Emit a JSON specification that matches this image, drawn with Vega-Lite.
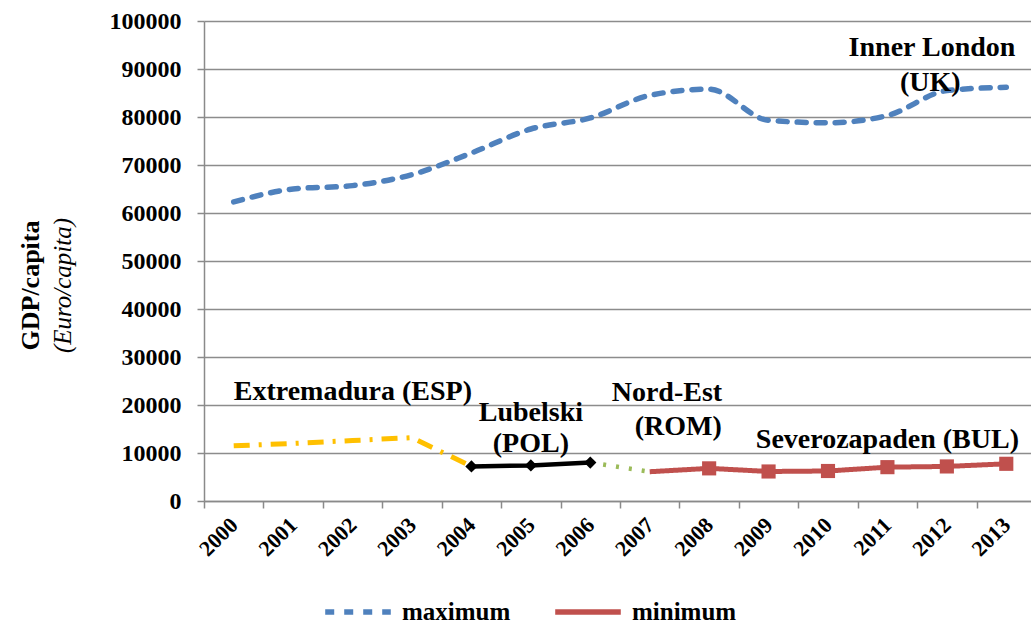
{
  "$schema": "https://vega.github.io/schema/vega-lite/v6.json",
  "width": 827,
  "height": 480,
  "autosize": {"type": "none"},
  "padding": {"left": 204, "top": 21, "right": 0, "bottom": 126},
  "background": "white",
  "config": {
    "view": {"stroke": null},
    "font": "Liberation Serif",
    "style": {"guide-label": {"font": "Liberation Serif", "fontWeight": "bold"}},
    "legend": {
      "orient": "none",
      "legendX": 118,
      "legendY": 555,
      "direction": "horizontal",
      "symbolType": "stroke",
      "symbolSize": 4300,
      "symbolStrokeWidth": 5.5,
      "labelFont": "Liberation Serif",
      "labelFontSize": 25,
      "labelFontWeight": "bold",
      "labelColor": "#000000",
      "labelOffset": 8,
      "columnPadding": 33,
      "labelLimit": 300
    }
  },
  "datasets": {
    "maxd": [
      {"year": 2000, "value": 62300, "series": "maximum"},
      {"year": 2001, "value": 65000, "series": "maximum"},
      {"year": 2002, "value": 65700, "series": "maximum"},
      {"year": 2003, "value": 68000, "series": "maximum"},
      {"year": 2004, "value": 72500, "series": "maximum"},
      {"year": 2005, "value": 77500, "series": "maximum"},
      {"year": 2006, "value": 79800, "series": "maximum"},
      {"year": 2007, "value": 84500, "series": "maximum"},
      {"year": 2008, "value": 85800, "series": "maximum"},
      {"year": 2009, "value": 79300, "series": "maximum"},
      {"year": 2010, "value": 78800, "series": "maximum"},
      {"year": 2011, "value": 80300, "series": "maximum"},
      {"year": 2012, "value": 85500, "series": "maximum"},
      {"year": 2013, "value": 86200, "series": "maximum"}
    ],
    "esp": [
      {"year": 2000, "value": 11500},
      {"year": 2001, "value": 12000},
      {"year": 2002, "value": 12600},
      {"year": 2003, "value": 13200},
      {"year": 2004, "value": 7200}
    ],
    "pol": [
      {"year": 2004, "value": 7200},
      {"year": 2005, "value": 7400},
      {"year": 2006, "value": 8000}
    ],
    "rom": [
      {"year": 2006, "value": 8000},
      {"year": 2007, "value": 6100}
    ],
    "bul": [
      {"year": 2007, "value": 6100, "series": "minimum"},
      {"year": 2008, "value": 6800, "series": "minimum"},
      {"year": 2009, "value": 6150, "series": "minimum"},
      {"year": 2010, "value": 6250, "series": "minimum"},
      {"year": 2011, "value": 7050, "series": "minimum"},
      {"year": 2012, "value": 7200, "series": "minimum"},
      {"year": 2013, "value": 7750, "series": "minimum"}
    ],
    "lab": [
      {"text": "Lubelski", "year": 2005, "value": 18250},
      {"text": "(POL)", "year": 2005, "value": 11900},
      {"text": "Nord-Est", "year": 2007.29, "value": 22420},
      {"text": "(ROM)", "year": 2007.48, "value": 15330},
      {"text": "Severozapaden (BUL)", "year": 2011.0, "value": 12620},
      {"text": "Inner London", "year": 2011.75, "value": 94370},
      {"text": "(UK)", "year": 2011.72, "value": 87070}
    ],
    "labL": [
      {"text": "Extremadura (ESP)", "year": 2000, "value": 22630}
    ]
  },
  "layer": [
    {
      "data": {"name": "maxd"},
      "mark": {"type": "line", "interpolate": "monotone", "strokeWidth": 5.5, "strokeCap": "round"},
      "encoding": {
        "x": {
          "field": "year", "type": "quantitative",
          "scale": {"domain": [1999.5, 2013.416], "nice": false, "zero": false},
          "axis": {
            "orient": "bottom",
            "values": [1999.5, 2000.5, 2001.5, 2002.5, 2003.5, 2004.5, 2005.5, 2006.5, 2007.5, 2008.5, 2009.5, 2010.5, 2011.5, 2012.5],
            "labels": false, "ticks": true, "tickSize": 7, "tickColor": "#8a8a8a", "tickWidth": 1.5,
            "domain": true, "domainColor": "#8a8a8a", "domainWidth": 1.5, "grid": false, "title": null
          }
        },
        "y": {
          "field": "value", "type": "quantitative",
          "scale": {"domain": [0, 100000], "nice": false, "zero": true},
          "axis": {
            "orient": "left",
            "values": [0, 10000, 20000, 30000, 40000, 50000, 60000, 70000, 80000, 90000, 100000],
            "grid": true, "gridColor": "#8c8c8c", "gridWidth": 1.5,
            "domain": true, "domainColor": "#8a8a8a", "domainWidth": 1.5,
            "ticks": true, "tickColor": "#8a8a8a", "tickSize": 7, "tickWidth": 1.5,
            "labelFont": "Liberation Serif", "labelFontWeight": "bold", "labelFontSize": 24, "labelColor": "#000000", "labelPadding": 16,
            "format": "d",
            "title": "GDP/capita", "titleFont": "Liberation Serif", "titleFontSize": 26, "titleFontWeight": "bold", "titleColor": "#000000",
            "titleX": -174, "titleY": 264, "titleAngle": -90, "titleAlign": "center", "titleBaseline": "middle"
          }
        },
        "color": {"field": "series", "type": "nominal", "scale": {"domain": ["maximum", "minimum"], "range": ["#4F81BD", "#C0504D"]}, "legend": {"title": null}},
        "strokeDash": {"field": "series", "type": "nominal", "scale": {"domain": ["maximum", "minimum"], "range": [[9, 10], [1, 0]]}, "legend": {"title": null}}
      }
    },
    {
      "data": {"name": "bul"},
      "mark": {"type": "line", "strokeWidth": 5},
      "encoding": {
        "x": {"field": "year", "type": "quantitative", "axis": null},
        "y": {"field": "value", "type": "quantitative", "axis": null},
        "color": {"field": "series", "type": "nominal", "scale": {"domain": ["maximum", "minimum"], "range": ["#4F81BD", "#C0504D"]}, "legend": {"title": null}},
        "strokeDash": {"field": "series", "type": "nominal", "scale": {"domain": ["maximum", "minimum"], "range": [[9, 10], [1, 0]]}, "legend": {"title": null}}
      }
    },
    {
      "data": {"name": "bul"},
      "transform": [{"filter": "datum.year >= 2008"}],
      "mark": {"type": "point", "shape": "square", "filled": true, "size": 200, "color": "#C0504D", "opacity": 1},
      "encoding": {
        "x": {"field": "year", "type": "quantitative", "axis": null},
        "y": {"field": "value", "type": "quantitative", "axis": null}
      }
    },
    {
      "data": {"name": "esp"},
      "mark": {"type": "line", "color": "#FFC000", "strokeWidth": 5, "strokeDash": [16, 9, 3, 9]},
      "encoding": {
        "x": {"field": "year", "type": "quantitative", "axis": null},
        "y": {"field": "value", "type": "quantitative", "axis": null}
      }
    },
    {
      "data": {"name": "rom"},
      "mark": {"type": "line", "color": "#9BBB59", "strokeWidth": 4.5, "strokeDash": [3, 10]},
      "encoding": {
        "x": {"field": "year", "type": "quantitative", "axis": null},
        "y": {"field": "value", "type": "quantitative", "axis": null}
      }
    },
    {
      "data": {"name": "pol"},
      "mark": {"type": "line", "color": "#000000", "strokeWidth": 4.5},
      "encoding": {
        "x": {"field": "year", "type": "quantitative", "axis": null},
        "y": {"field": "value", "type": "quantitative", "axis": null}
      }
    },
    {
      "data": {"name": "pol"},
      "mark": {"type": "point", "shape": "diamond", "filled": true, "size": 150, "color": "#000000", "opacity": 1},
      "encoding": {
        "x": {"field": "year", "type": "quantitative", "axis": null},
        "y": {"field": "value", "type": "quantitative", "axis": null}
      }
    },
    {
      "data": {"name": "lab"},
      "mark": {"type": "text", "font": "Liberation Serif", "fontSize": 28, "fontWeight": "bold", "color": "#000000", "align": "center", "baseline": "middle"},
      "encoding": {
        "x": {
          "field": "year", "type": "quantitative",
          "axis": {
            "orient": "bottom",
            "values": [2000, 2001, 2002, 2003, 2004, 2005, 2006, 2007, 2008, 2009, 2010, 2011, 2012, 2013],
            "format": "d", "labelAngle": -45, "labelAlign": "right", "labelBaseline": "middle",
            "labelFont": "Liberation Serif", "labelFontSize": 22, "labelFontWeight": "bold", "labelColor": "#000000",
            "labelPadding": 20, "labelOverlap": false, "labelFlush": false,
            "ticks": false, "domain": false, "grid": false, "title": null
          }
        },
        "y": {
          "field": "value", "type": "quantitative",
          "axis": {
            "orient": "left",
            "labels": false, "ticks": false, "domain": false, "grid": false,
            "title": "(Euro/capita)", "titleFont": "Liberation Serif", "titleFontSize": 25, "titleFontStyle": "italic", "titleFontWeight": "normal", "titleColor": "#000000",
            "titleX": -142, "titleY": 264, "titleAngle": -90, "titleAlign": "center", "titleBaseline": "middle"
          }
        },
        "text": {"field": "text", "type": "nominal"}
      }
    },
    {
      "data": {"name": "labL"},
      "mark": {"type": "text", "font": "Liberation Serif", "fontSize": 28, "fontWeight": "bold", "color": "#000000", "align": "left", "baseline": "middle"},
      "encoding": {
        "x": {"field": "year", "type": "quantitative", "axis": null},
        "y": {"field": "value", "type": "quantitative", "axis": null},
        "text": {"field": "text", "type": "nominal"}
      }
    }
  ],
  "resolve": {"axis": {"x": "independent", "y": "independent"}}
}
